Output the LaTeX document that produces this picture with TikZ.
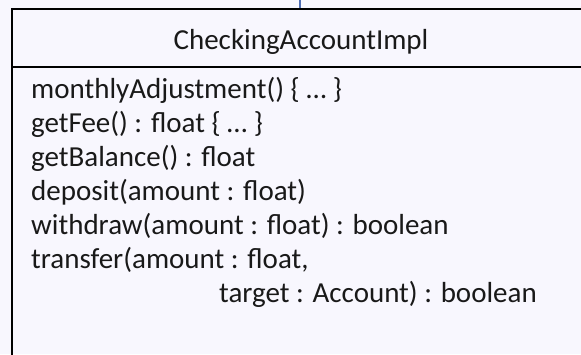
\documentclass[tikz,border=0pt]{standalone}
\usepackage{fontspec}
\setmainfont{Carlito}
\definecolor{paper}{RGB}{248,247,254}
\definecolor{link}{RGB}{80,110,180}
\begin{document}
\begin{tikzpicture}[x=1pt,y=-1pt,
  classbox/.style={draw=black,line width=2pt,rectangle,minimum width=580pt,minimum height=380pt,anchor=north west,inner sep=0pt},
  umltext/.style={font=\fontsize{29}{34}\selectfont,inner sep=0pt,text=black!90},
  op/.style={umltext,anchor=base west}]
  \fill[paper] (0,0) rectangle (581,354);
  \useasboundingbox (0,0) rectangle (581,354);
  \clip (0,0) rectangle (581,354);
  % class rectangle, running past the lower and right edges
  \node[classbox] (cls) at (11,8) {};
  \draw[line width=2pt] (cls.west |- 0,67) coordinate (divl) -- (cls.east |- 0,67) coordinate (divr);
  % association coming in from above
  \coordinate (up) at (300,0);
  \draw[link,line width=1.5pt] (up) -- (up |- cls.north);
  % class name
  \node[umltext,anchor=base] (name) at (301,49) {CheckingAccountImpl};
  % operations, one per line
  \node[op] (m1) at (31,98)  {monthlyAdjustment() \{ … \}};
  \node[op] (m2) at (31,132) {getFee() : float \{ … \}};
  \node[op] (m3) at (31,166) {getBalance() : float};
  \node[op] (m4) at (31,200) {deposit(amount : float)};
  \node[op] (m5) at (31,234) {withdraw(amount : float) : boolean};
  \node[op] (m6) at (31,268) {transfer(amount : float,};
  \node[op] (m7) at (219,302) {target : Account) : boolean};
\end{tikzpicture}
\end{document}
